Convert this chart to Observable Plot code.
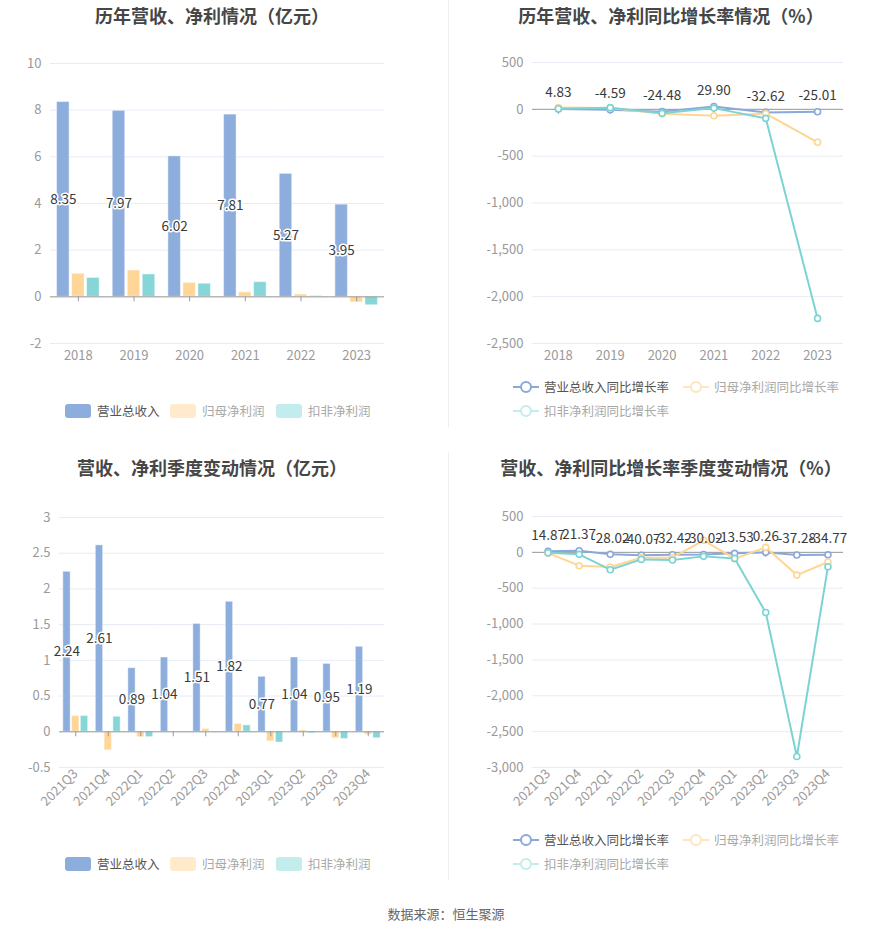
<!DOCTYPE html>
<html><head><meta charset="utf-8">
<script src="https://cdn.jsdelivr.net/npm/d3@7"></script>
<script src="https://cdn.jsdelivr.net/npm/@observablehq/plot@0.6"></script>
<style>
body{margin:0;background:#fff;font-family:"Noto Sans CJK SC","Noto Sans",sans-serif;}
#root{position:relative;width:893px;height:935px;overflow:hidden;background:#fff;}
.panel{position:absolute;}
.title{position:absolute;font-size:18px;font-weight:bold;color:#464646;white-space:nowrap;transform:translate(-50%,-50%);line-height:1;}
.lg{position:absolute;display:flex;align-items:center;font-size:12.5px;white-space:nowrap;transform:translateY(-50%);line-height:1;}
.src{position:absolute;left:446px;top:913px;transform:translate(-50%,-50%);font-size:13px;color:#666;white-space:nowrap;}
.vdiv{position:absolute;left:448px;width:1px;background:#eeeeee;}
</style></head><body><div id="root"></div>
<script>
// ---------- data ----------
const years = ["2018","2019","2020","2021","2022","2023"];
const annualRevenue = [8.35, 7.97, 6.02, 7.81, 5.27, 3.95];
const annualNetProfit = [0.99, 1.13, 0.60, 0.19, 0.10, -0.24];
const annualDeductedProfit = [0.81, 0.96, 0.56, 0.63, 0.03, -0.36];
const annualRevenueGrowth = [4.83, -4.59, -24.48, 29.90, -32.62, -25.01];
const annualNetProfitGrowth = [20, 14, -48, -68, -47, -352];
const annualDeductedGrowth = [7, 18, -43, 13, -96, -2232];

const quarters = ["2021Q3","2021Q4","2022Q1","2022Q2","2022Q3","2022Q4","2023Q1","2023Q2","2023Q3","2023Q4"];
const quarterRevenue = [2.24, 2.61, 0.89, 1.04, 1.51, 1.82, 0.77, 1.04, 0.95, 1.19];
const quarterNetProfit = [0.22, -0.26, -0.075, -0.01, 0.04, 0.11, -0.135, 0.02, -0.09, -0.04];
const quarterDeductedProfit = [0.22, 0.21, -0.075, 0.003, 0.003, 0.09, -0.15, -0.02, -0.10, -0.09];
const quarterRevenueGrowth = [14.87, 21.37, -28.02, -40.07, -32.42, -30.02, -13.53, 0.26, -37.28, -34.77];
const quarterNetProfitGrowth = [-10, -186, -205, -75, -75, 168, -88, 70, -317, -135];
const quarterDeductedGrowth = [-5, -28, -242, -98, -107, -56, -84, -839, -2847, -200];

const barSeries = ["营业总收入", "归母净利润", "扣非净利润"];
const lineSeries = ["营业总收入同比增长率", "归母净利润同比增长率", "扣非净利润同比增长率"];
const annualTicks = [-2, 0, 2, 4, 6, 8, 10];
const quarterTicks = [-0.5, 0, 0.5, 1, 1.5, 2, 2.5, 3];
const annualGrowthTicks = [-2500, -2000, -1500, -1000, -500, 0, 500];
const quarterGrowthTicks = [-3000, -2500, -2000, -1500, -1000, -500, 0, 500];

// ---------- styles ----------
const barColors = ["#8DADDC", "#FFD698", "#86D6D7"];
const lineColors = ["#8AA8DA", "#FFD592", "#7DD3D3"];
const FONT = '"Noto Sans CJK SC","Noto Sans",sans-serif';
const root = document.getElementById("root");

function fmtNum(d) { return d.toLocaleString("en-US"); }

function mount(svg, left, top) {
  const wrap = document.createElement("div");
  wrap.className = "panel";
  wrap.style.left = left + "px"; wrap.style.top = top + "px";
  wrap.appendChild(svg);
  root.appendChild(wrap);
}

function barPanel({cats, rev, np, dp, domain, ticks, rotate, mt, mb, ml, mr, left, top}) {
  const data = cats.flatMap((c, i) => [
    {cat: c, series: barSeries[0], value: rev[i]},
    {cat: c, series: barSeries[1], value: np[i]},
    {cat: c, series: barSeries[2], value: dp[i]}
  ]);
  const revData = data.filter(d => d.series === barSeries[0]);
  const svg = Plot.plot({
    width: 446, height: 380,
    marginTop: mt, marginBottom: mb, marginLeft: ml, marginRight: mr,
    style: {background: "transparent", fontFamily: FONT, fontSize: "13px", color: "#9a9a9a", overflow: "visible"},
    fx: {domain: cats, padding: 0, round: false, label: null, tickSize: 0, tickPadding: rotate ? 4 : 7, tickRotate: rotate, axis: "bottom"},
    x: {domain: barSeries, paddingInner: 1/6, paddingOuter: 0.437, round: false, axis: null},
    y: {domain: domain, ticks: ticks, tickSize: 0, tickPadding: 9, label: null, tickFormat: d => String(d)},
    color: {domain: barSeries, range: barColors},
    marks: [
      Plot.ruleY(ticks, {stroke: "#E7EBF5"}),
      Plot.barY(data, {fx: "cat", x: "series", y: "value", fill: "series", stroke: "#ffffff", strokeOpacity: 0.45, strokeWidth: 1}),
      Plot.ruleY([0], {stroke: "#9a9a9a"}),
      Plot.ruleX(cats, {fx: d => d, x: null, y1: 0, y2: 0, insetBottom: -5, stroke: "#9a9a9a"}),
      Plot.text(revData, {fx: "cat", x: "series", y: d => d.value / 2, text: d => d.value.toFixed(2),
        fill: "#3a3a3a", stroke: "#ffffff", strokeWidth: 3, fontSize: 13.5})
    ]
  });
  mount(svg, left, top);
}

function linePanel({cats, rev, np, dp, domain, ticks, rotate, mt, mb, ml, mr, left, top}) {
  const vals = [rev, np, dp];
  const data = vals.map((arr, k) => cats.map((c, i) => ({cat: c, series: lineSeries[k], value: arr[i]})));
  const marks = [
    Plot.ruleY(ticks, {stroke: "#E7EBF5"}),
    Plot.ruleY([0], {stroke: "#9a9a9a"}),
    Plot.ruleX(cats, {x: d => d, y1: 0, y2: 0, insetBottom: -5, stroke: "#9a9a9a"})
  ];
  data.forEach((d, k) => {
    marks.push(Plot.line(d, {x: "cat", y: "value", stroke: lineColors[k], strokeWidth: 2}));
    marks.push(Plot.dot(d, {x: "cat", y: "value", stroke: lineColors[k], fill: "#ffffff", r: 3, strokeWidth: 1.6}));
  });
  marks.push(Plot.text(data[0], {x: "cat", y: "value", text: d => d.value.toFixed(2), dy: -16, fill: "#3a3a3a", fontSize: 13.5}));
  const svg = Plot.plot({
    width: 447, height: 380,
    marginTop: mt, marginBottom: mb, marginLeft: ml, marginRight: mr,
    style: {background: "transparent", fontFamily: FONT, fontSize: "13px", color: "#9a9a9a", overflow: "visible"},
    x: {type: "point", domain: cats, padding: 0.5, round: false, label: null, tickSize: 0, tickPadding: rotate ? 4 : 7, tickRotate: rotate},
    y: {domain: domain, ticks: ticks, tickSize: 0, tickPadding: 9, label: null, tickFormat: fmtNum},
    marks
  });
  mount(svg, left, top);
}

function title(text, cx, cy) {
  const t = document.createElement("div");
  t.className = "title"; t.textContent = text;
  t.style.left = cx + "px"; t.style.top = cy + "px";
  root.appendChild(t);
}

function barLegend(cy) {
  const xs = [65, 170, 276];
  const iconColors = ["#8DADDC", "#FFEACB", "#C3EDED"];
  const textColors = ["#555555", "#a8a8a8", "#a8a8a8"];
  barSeries.forEach((s, k) => {
    const it = document.createElement("div");
    it.className = "lg";
    it.style.left = xs[k] + "px"; it.style.top = cy + "px";
    it.innerHTML = `<span style="display:inline-block;width:26px;height:14px;border-radius:3px;background:${iconColors[k]};margin-right:6px"></span><span style="color:${textColors[k]}">${s}</span>`;
    root.appendChild(it);
  });
}

function lineLegend(cy) {
  const pos = [[513, cy], [683, cy], [513, cy + 24]];
  const iconColors = ["#8AA8DA", "#FFE6BE", "#C3ECEC"];
  const textColors = ["#555555", "#a8a8a8", "#a8a8a8"];
  lineSeries.forEach((s, k) => {
    const it = document.createElement("div");
    it.className = "lg";
    it.style.left = pos[k][0] + "px"; it.style.top = pos[k][1] + "px";
    it.innerHTML = `<svg width="26" height="14" style="margin-right:5px;overflow:visible"><line x1="0" y1="7" x2="26" y2="7" stroke="${iconColors[k]}" stroke-width="2"/><circle cx="13" cy="7" r="5" fill="#fff" stroke="${iconColors[k]}" stroke-width="2"/></svg><span style="color:${textColors[k]}">${s}</span>`;
    root.appendChild(it);
  });
}

// dividers
[[0, 427], [452, 428]].forEach(([t, h]) => {
  const v = document.createElement("div");
  v.className = "vdiv"; v.style.top = t + "px"; v.style.height = h + "px";
  root.appendChild(v);
});

barPanel({cats: years, rev: annualRevenue, np: annualNetProfit, dp: annualDeductedProfit,
  domain: [-2, 10], ticks: annualTicks, rotate: 0, mt: 63, mb: 37, ml: 50, mr: 62, left: 0, top: 0});
linePanel({cats: years, rev: annualRevenueGrowth, np: annualNetProfitGrowth, dp: annualDeductedGrowth,
  domain: [-2500, 500], ticks: annualGrowthTicks, rotate: 0, mt: 62, mb: 37, ml: 86, mr: 50, left: 446, top: 0});
barPanel({cats: quarters, rev: quarterRevenue, np: quarterNetProfit, dp: quarterDeductedProfit,
  domain: [-0.5, 3], ticks: quarterTicks, rotate: -45, mt: 64, mb: 66, ml: 59, mr: 62, left: 0, top: 453});
linePanel({cats: quarters, rev: quarterRevenueGrowth, np: quarterNetProfitGrowth, dp: quarterDeductedGrowth,
  domain: [-3000, 500], ticks: quarterGrowthTicks, rotate: -45, mt: 63, mb: 66, ml: 86, mr: 50, left: 446, top: 453});

title("历年营收、净利情况（亿元）", 212, 15);
title("历年营收、净利同比增长率情况（%）", 671, 15);
title("营收、净利季度变动情况（亿元）", 212, 467);
title("营收、净利同比增长率季度变动情况（%）", 671, 467);

barLegend(411);
lineLegend(387);
barLegend(864);
lineLegend(840);

const src = document.createElement("div");
src.className = "src"; src.textContent = "数据来源：恒生聚源";
root.appendChild(src);
</script>
</body></html>
